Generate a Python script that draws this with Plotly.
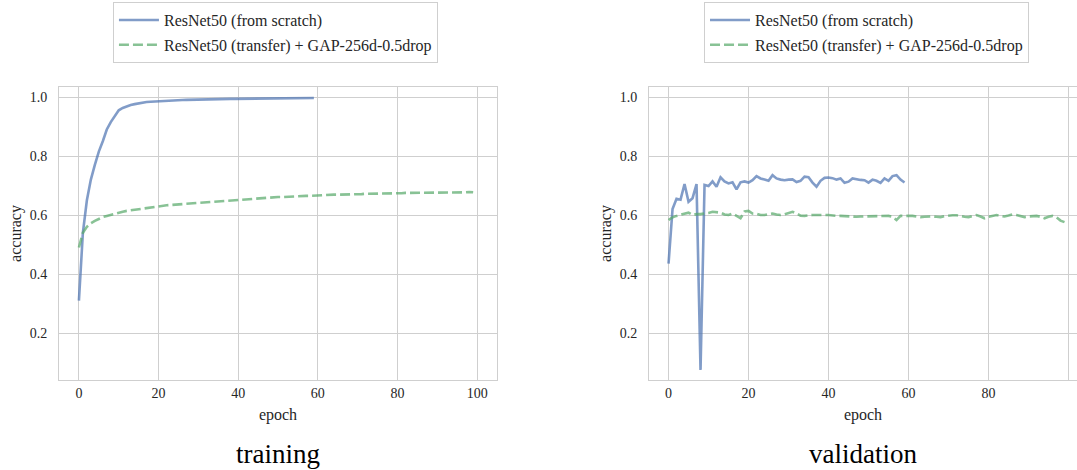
import plotly.graph_objects as go

# accuracy per epoch
train_scratch = [0.31, 0.54, 0.65, 0.72, 0.77, 0.815, 0.85, 0.89, 0.915, 0.935,
                 0.955, 0.963, 0.969, 0.973, 0.976, 0.979, 0.981, 0.983, 0.984, 0.985,
                 0.986, 0.987, 0.988, 0.9885, 0.989, 0.9895, 0.990, 0.9905, 0.991, 0.9913,
                 0.9916, 0.992, 0.9922, 0.9925, 0.9928, 0.993, 0.9932, 0.9934, 0.9936, 0.9938,
                 0.994, 0.9942, 0.9944, 0.9946, 0.9948, 0.995, 0.9951, 0.9952, 0.9954, 0.9955,
                 0.9956, 0.9958, 0.9959, 0.996, 0.9961, 0.9962, 0.9963, 0.9964, 0.9965, 0.9966]

train_transfer = [0.49, 0.54, 0.56, 0.572, 0.58, 0.587, 0.593, 0.597, 0.601, 0.605,
                  0.608, 0.611, 0.614, 0.616, 0.619, 0.621, 0.623, 0.625, 0.627, 0.629,
                  0.630, 0.631, 0.633, 0.634, 0.635, 0.637, 0.638, 0.639, 0.640, 0.641,
                  0.643, 0.644, 0.645, 0.646, 0.647, 0.648, 0.649, 0.650, 0.651, 0.651,
                  0.652, 0.653, 0.654, 0.655, 0.656, 0.657, 0.657, 0.658, 0.659, 0.660,
                  0.661, 0.661, 0.662, 0.662, 0.663, 0.664, 0.664, 0.665, 0.665, 0.666,
                  0.667, 0.667, 0.668, 0.668, 0.669, 0.669, 0.669, 0.670, 0.670, 0.671,
                  0.671, 0.671, 0.672, 0.672, 0.672, 0.673, 0.673, 0.673, 0.674, 0.674,
                  0.674, 0.674, 0.675, 0.675, 0.675, 0.675, 0.676, 0.676, 0.676, 0.676,
                  0.676, 0.676, 0.677, 0.677, 0.677, 0.677, 0.677, 0.677, 0.678, 0.677]

val_scratch = [0.435, 0.62, 0.655, 0.652, 0.705, 0.645, 0.657, 0.705, 0.075, 0.702,
               0.698, 0.714, 0.696, 0.728, 0.714, 0.707, 0.711, 0.687, 0.711, 0.714,
               0.710, 0.718, 0.732, 0.724, 0.720, 0.716, 0.735, 0.724, 0.720, 0.718,
               0.720, 0.721, 0.712, 0.716, 0.730, 0.728, 0.710, 0.696, 0.716, 0.726,
               0.727, 0.725, 0.720, 0.724, 0.709, 0.713, 0.724, 0.721, 0.719, 0.718,
               0.710, 0.720, 0.716, 0.709, 0.724, 0.716, 0.732, 0.735, 0.720, 0.710]

val_transfer = [0.583, 0.592, 0.597, 0.600, 0.603, 0.608, 0.600, 0.603, 0.603, 0.604,
                0.607, 0.611, 0.609, 0.608, 0.602, 0.600, 0.605, 0.598, 0.589, 0.612,
                0.614, 0.605, 0.604, 0.600, 0.600, 0.603, 0.605, 0.602, 0.600, 0.602,
                0.606, 0.611, 0.605, 0.598, 0.597, 0.599, 0.600, 0.600, 0.599, 0.600,
                0.600, 0.598, 0.597, 0.597, 0.596, 0.594, 0.593, 0.594, 0.595, 0.595,
                0.595, 0.596, 0.595, 0.595, 0.596, 0.597, 0.594, 0.583, 0.597, 0.598,
                0.597, 0.597, 0.595, 0.593, 0.594, 0.595, 0.595, 0.594, 0.593, 0.596,
                0.598, 0.599, 0.599, 0.596, 0.594, 0.593, 0.597, 0.600, 0.595, 0.589,
                0.594, 0.598, 0.600, 0.597, 0.595, 0.598, 0.602, 0.600, 0.596, 0.593,
                0.595, 0.597, 0.597, 0.594, 0.589, 0.594, 0.597, 0.592, 0.581, 0.576]

names = ['ResNet50 (from scratch)', 'ResNet50 (transfer) + GAP-256d-0.5drop']
panel_titles = ['training', 'validation']
x_ticks = [0, 20, 40, 60, 80, 100]
y_ticks = [0.2, 0.4, 0.6, 0.8, 1.0]

BLUE = 'rgba(76,114,176,0.7)'
GREEN = 'rgba(85,168,104,0.7)'
GRID = '#cfcfcf'
TEXT = '#262626'
FONT = 'Liberation Serif'

fig = go.Figure()

panels = [(train_scratch, train_transfer, 'x', 'y', 'legend', 't'),
          (val_scratch, val_transfer, 'x2', 'y2', 'legend2', 'v')]
for scratch, transfer, xa, ya, lg, grp in panels:
    fig.add_trace(go.Scatter(
        x=list(range(len(scratch))), y=scratch, mode='lines', name=names[0],
        line=dict(color=BLUE, width=2.6), xaxis=xa, yaxis=ya, legend=lg,
        legendgroup=grp + '1'
    ))
    fig.add_trace(go.Scatter(
        x=list(range(len(transfer))), y=transfer, mode='lines', name=names[1],
        line=dict(color=GREEN, width=2.6, dash='10px,4px'), xaxis=xa, yaxis=ya, legend=lg,
        legendgroup=grp + '2'
    ))

axis_common = dict(
    showgrid=True, gridcolor=GRID, gridwidth=1,
    showline=True, linecolor=GRID, linewidth=1,
    zeroline=False, ticks='',
    tickfont=dict(family=FONT, size=14, color=TEXT),
)

legend_common = dict(
    xanchor='left', yanchor='top',
    bordercolor=GRID, borderwidth=1, bgcolor='white',
    font=dict(family=FONT, size=16, color=TEXT),
    tracegroupgap=1, itemwidth=40,
)

title_font = dict(family=FONT, size=16, color=TEXT)

fig.update_layout(
    width=1077, height=470,
    margin=dict(l=59, r=0, t=87, b=90),
    paper_bgcolor='white', plot_bgcolor='white',
    font=dict(family=FONT, color=TEXT),
    xaxis=dict(domain=[0, 0.4303], range=[-5, 105], tickvals=x_ticks, mirror=True,
               title=dict(text='epoch', font=title_font, standoff=9),
               anchor='y', **axis_common),
    yaxis=dict(domain=[0, 1], range=[0.0407, 1.034], tickvals=y_ticks, tickformat='.1f',
               mirror=True, ticklabelstandoff=8,
               title=dict(text='accuracy', font=title_font, standoff=4),
               anchor='x', **axis_common),
    xaxis2=dict(domain=[0.5796, 1], range=[-4.875, 102.125], tickvals=x_ticks, mirror=True,
                title=dict(text='epoch', font=title_font, standoff=9),
                anchor='y2', **axis_common),
    yaxis2=dict(domain=[0, 1], range=[0.0407, 1.034], tickvals=y_ticks, tickformat='.1f',
                mirror=False, ticklabelstandoff=8,
                title=dict(text='accuracy', font=title_font, standoff=4),
                anchor='x2', **axis_common),
    legend=dict(x=0.053, y=1.29, **legend_common),
    legend2=dict(x=0.6336, y=1.29, **legend_common),
    annotations=[
        dict(text=panel_titles[0], x=0.2152, y=-0.2526, xref='paper', yref='paper',
             xanchor='center', yanchor='middle', showarrow=False,
             font=dict(family=FONT, size=27, color='black')),
        dict(text=panel_titles[1], x=0.7898, y=-0.2526, xref='paper', yref='paper',
             xanchor='center', yanchor='middle', showarrow=False,
             font=dict(family=FONT, size=27, color='black')),
    ],
)

# drop the browser's default page margin so the figure sits at the top-left corner
fig.write_html("out.html", config={'displayModeBar': False},
               post_script="document.body.style.margin='0';")
